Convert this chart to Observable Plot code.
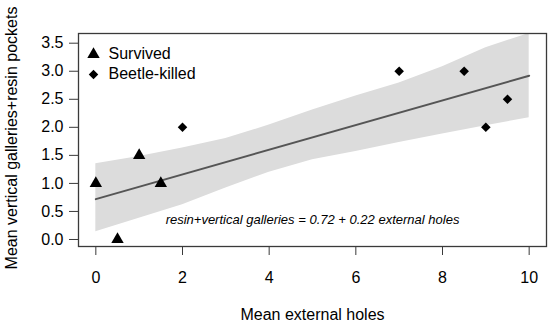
<!DOCTYPE html>
<html><head><meta charset="utf-8">
<script src="https://cdn.jsdelivr.net/npm/d3@7"></script>
<script src="https://cdn.jsdelivr.net/npm/@observablehq/plot@0.6"></script>
<style>body{margin:0;background:#fff}</style>
</head><body><div id="chart"></div>
<script>
const survivedX = [0, 0.5, 1, 1.5];
const survivedY = [1, 0, 1.5, 1];
const killedX = [2, 7, 8.5, 9, 9.5];
const killedY = [2, 3, 3, 2, 2.5];
const fitX = [0, 10];
const fitY = [0.72, 2.92];
const bandX = [0, 1, 2, 3, 4, 5, 6, 7, 8, 9, 10];
const bandLow = [0.14, 0.38, 0.62, 0.92, 1.2, 1.42, 1.57, 1.73, 1.88, 2.03, 2.17];
const bandHigh = [1.35, 1.48, 1.63, 1.80, 2.04, 2.31, 2.56, 2.79, 3.08, 3.42, 3.80];
const xTicks = [0, 2, 4, 6, 8, 10];
const yTicks = [0, 0.5, 1, 1.5, 2, 2.5, 3, 3.5];
const legendLabels = ["Survived", "Beetle-killed"];
const legendSymbols = ["triangle", "diamond2"];
const xLabel = "Mean external holes";
const yLabel = "Mean vertical galleries+resin pockets";
const equation = "resin+vertical galleries = 0.72 + 0.22 external holes";
const equationX = 5;
const equationY = 0.35;

const survived = survivedX.map((x, i) => ({x, y: survivedY[i]}));
const killed = killedX.map((x, i) => ({x, y: killedY[i]}));
const fit = fitX.map((x, i) => ({x, y: fitY[i]}));
const band = bandX.map((x, i) => ({x, lo: bandLow[i], hi: bandHigh[i]}));

const axisColor = "#3a3a3a";
const chart = Plot.plot({
  width: 550,
  height: 326,
  marginLeft: 78,
  marginRight: 4,
  marginTop: 33,
  marginBottom: 80,
  x: {domain: [-0.4, 10.4]},
  y: {domain: [-0.125, 3.673], clamp: true},
  style: {fontFamily: "'Liberation Sans', Arial, sans-serif", fontSize: "16px", color: "#000", background: "#fff"},
  marks: [
    Plot.areaY(band, {x: "x", y1: "lo", y2: "hi", fill: "#dcdcdc", curve: "linear"}),
    Plot.line(fit, {x: "x", y: "y", stroke: "#555", strokeWidth: 2}),
    Plot.dot(survived, {x: "x", y: "y", symbol: "triangle", r: 4.6, fill: "#000", stroke: "none"}),
    Plot.dot(killed, {x: "x", y: "y", symbol: "diamond2", r: 4.3, fill: "#000", stroke: "none"}),
    Plot.text([equation], {x: () => equationX, y: () => equationY, text: d => d, fontStyle: "italic", fontSize: 13}),
    Plot.frame({stroke: axisColor, strokeWidth: 1.3}),
    Plot.axisX({ticks: xTicks, tickSize: 9, tickPadding: 16, fontSize: 16, label: null, stroke: axisColor}),
    Plot.axisY({ticks: yTicks, tickSize: 9, tickPadding: 6, fontSize: 16, label: null, stroke: axisColor, tickFormat: d3.format(".1f")}),
    Plot.text([xLabel], {frameAnchor: "bottom", dy: 68, text: d => d, fontSize: 16, lineAnchor: "middle"}),
    Plot.text([yLabel], {frameAnchor: "left", dx: -67, dy: -2, rotate: -90, text: d => d, fontSize: 16, textAnchor: "middle", lineAnchor: "middle"}),
    ...legendLabels.map((label, i) => Plot.dot([label], {frameAnchor: "top-left", dx: 15, dy: 21 + 20 * i, symbol: legendSymbols[i], r: i === 0 ? 4.6 : 4.3, fill: "#000", stroke: "none"})),
    ...legendLabels.map((label, i) => Plot.text([label], {frameAnchor: "top-left", dx: 30, dy: 20 + 20 * i, text: d => d, textAnchor: "start", lineAnchor: "middle", fontSize: 16}))
  ]
});
document.getElementById("chart").appendChild(chart);
</script>
</body></html>
